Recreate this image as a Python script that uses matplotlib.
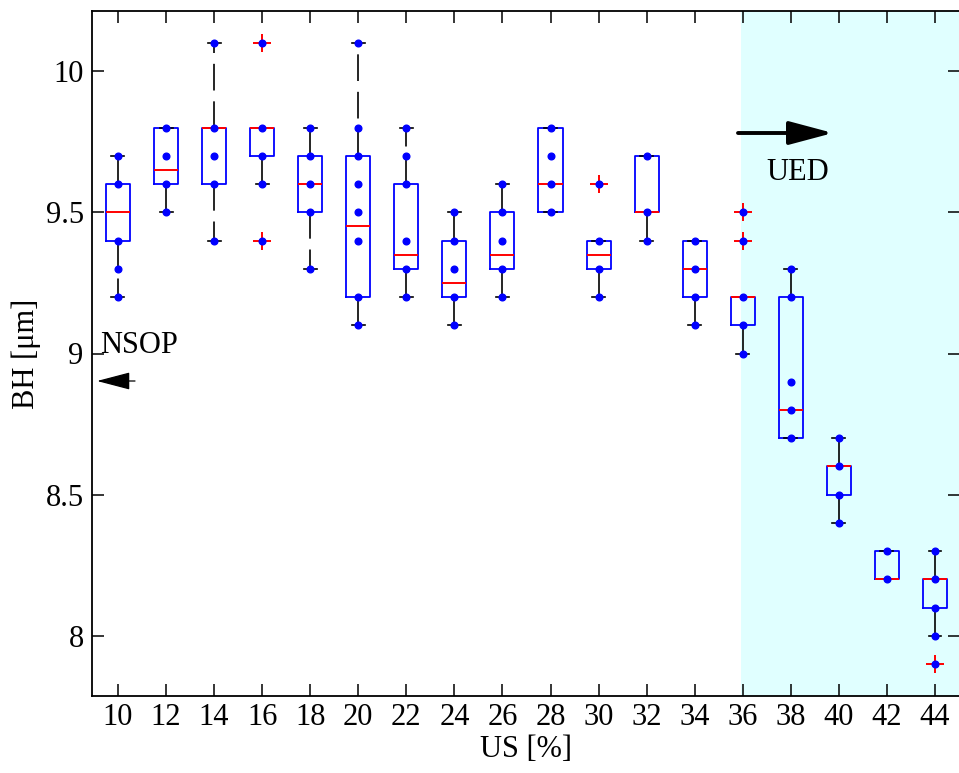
import numpy as np
import matplotlib
matplotlib.use('Agg')
import matplotlib.pyplot as plt

plt.rcParams['font.family'] = ['Liberation Serif', 'DejaVu Serif']
plt.rcParams['font.size'] = 22

# US [%] groups and box statistics
us = [10, 12, 14, 16, 18, 20, 22, 24, 26, 28, 30, 32, 34, 36, 38, 40, 42, 44]
q1  = [9.4, 9.6, 9.6, 9.7, 9.5, 9.2, 9.3, 9.2, 9.3, 9.5, 9.3, 9.5, 9.2, 9.1, 8.7, 8.5, 8.2, 8.1]
med = [9.5, 9.65, 9.8, 9.8, 9.6, 9.45, 9.35, 9.25, 9.35, 9.6, 9.35, 9.5, 9.3, 9.2, 8.8, 8.6, 8.2, 8.2]
q3  = [9.6, 9.8, 9.8, 9.8, 9.7, 9.7, 9.6, 9.4, 9.5, 9.8, 9.4, 9.7, 9.4, 9.2, 9.2, 8.6, 8.3, 8.2]
wlo = [9.2, 9.5, 9.4, 9.6, 9.3, 9.1, 9.2, 9.1, 9.2, 9.5, 9.2, 9.4, 9.1, 9.0, 8.7, 8.4, 8.2, 8.0]
whi = [9.7, 9.8, 10.1, 9.8, 9.8, 10.1, 9.8, 9.5, 9.6, 9.8, 9.4, 9.7, 9.4, 9.2, 9.3, 8.7, 8.3, 8.3]
fliers = [[], [], [], [10.1, 9.4], [], [], [], [], [], [], [9.6], [], [], [9.5, 9.4], [], [], [], [7.9]]

# measured values shown as dots
points = [
    [9.7, 9.6, 9.4, 9.3, 9.2],
    [9.8, 9.7, 9.6, 9.5],
    [10.1, 9.8, 9.7, 9.6, 9.4],
    [10.1, 9.8, 9.7, 9.6, 9.4],
    [9.8, 9.7, 9.6, 9.5, 9.3],
    [10.1, 9.8, 9.7, 9.6, 9.5, 9.4, 9.2, 9.1],
    [9.8, 9.7, 9.6, 9.4, 9.3, 9.2],
    [9.5, 9.4, 9.3, 9.2, 9.1],
    [9.6, 9.5, 9.4, 9.3, 9.2],
    [9.8, 9.7, 9.6, 9.5],
    [9.6, 9.4, 9.3, 9.2],
    [9.7, 9.5, 9.4],
    [9.4, 9.3, 9.2, 9.1],
    [9.5, 9.4, 9.2, 9.1, 9.0],
    [9.3, 9.2, 8.9, 8.8, 8.7],
    [8.7, 8.6, 8.5, 8.4],
    [8.3, 8.2],
    [8.3, 8.2, 8.1, 8.0, 7.9],
]

W, H = 959, 773
fig = plt.figure(figsize=(W / 100, H / 100), dpi=100)
ax = fig.add_axes([92 / W, 1 - 696 / H, (960 - 92) / W, (696 - 11) / H])

pos = np.arange(1, len(us) + 1)

# UED region shading
ax.axvspan(13.96, 19, color='#E0FFFF', lw=0, zorder=0)

stats = []
for i in range(len(us)):
    stats.append({'med': med[i], 'q1': q1[i], 'q3': q3[i],
                  'whislo': wlo[i], 'whishi': whi[i], 'fliers': fliers[i]})

ax.bxp(stats, positions=pos, widths=0.5, capwidths=0.27,
       boxprops=dict(color='#0000FF', lw=1.3),
       medianprops=dict(color='#FF0000', lw=1.4),
       whiskerprops=dict(color='black', lw=1.2, linestyle=(0, (16, 6.5))),
       capprops=dict(color='black', lw=1.2),
       flierprops=dict(marker='+', markeredgecolor='#FF0000', markersize=13, mew=1.4),
       manage_ticks=False, zorder=2)

for i, vals in enumerate(points):
    ax.plot([pos[i]] * len(vals), vals, 'o', color='#0000FF', markersize=4.8, zorder=4)

ax.set_xlim(0.46, 18.52)
ax.set_ylim(7.787, 10.213)
ax.set_xticks(pos)
ax.set_xticklabels([str(u) for u in us])
ax.set_yticks([8, 8.5, 9, 9.5, 10])
ax.set_yticklabels(['8', '8.5', '9', '9.5', '10'])
ax.tick_params(direction='in', length=8.6, width=1.1, top=True, right=True, labelsize=22)
ax.tick_params(axis='x', pad=5)
ax.tick_params(axis='y', pad=6)
for s in ax.spines.values():
    s.set_linewidth(1.3)

ax.set_xlabel('US [%]', labelpad=2)
ax.set_ylabel('BH [μm]', labelpad=3)

# annotations
ax.annotate('', xy=(833 / W, 1 - 133 / H), xytext=(738 / W, 1 - 133 / H),
            xycoords='figure fraction', textcoords='figure fraction',
            arrowprops=dict(arrowstyle='-|>,head_length=2.7,head_width=0.72',
                            mutation_scale=10, lw=2.8, color='black',
                            shrinkA=0, shrinkB=0))
fig.text(766 / W, 1 - 180 / H, 'UED', fontsize=22, va='baseline', ha='left')

ax.annotate('', xy=(97 / W, 1 - 381 / H), xytext=(135 / W, 1 - 381 / H),
            xycoords='figure fraction', textcoords='figure fraction',
            arrowprops=dict(arrowstyle='-|>,head_length=2.1,head_width=0.55',
                            mutation_scale=10, lw=0.9, color='black',
                            shrinkA=0, shrinkB=0))
fig.text(100 / W, 1 - 353 / H, 'NSOP', fontsize=22, va='baseline', ha='left')

fig.savefig('out.png', dpi=100)
